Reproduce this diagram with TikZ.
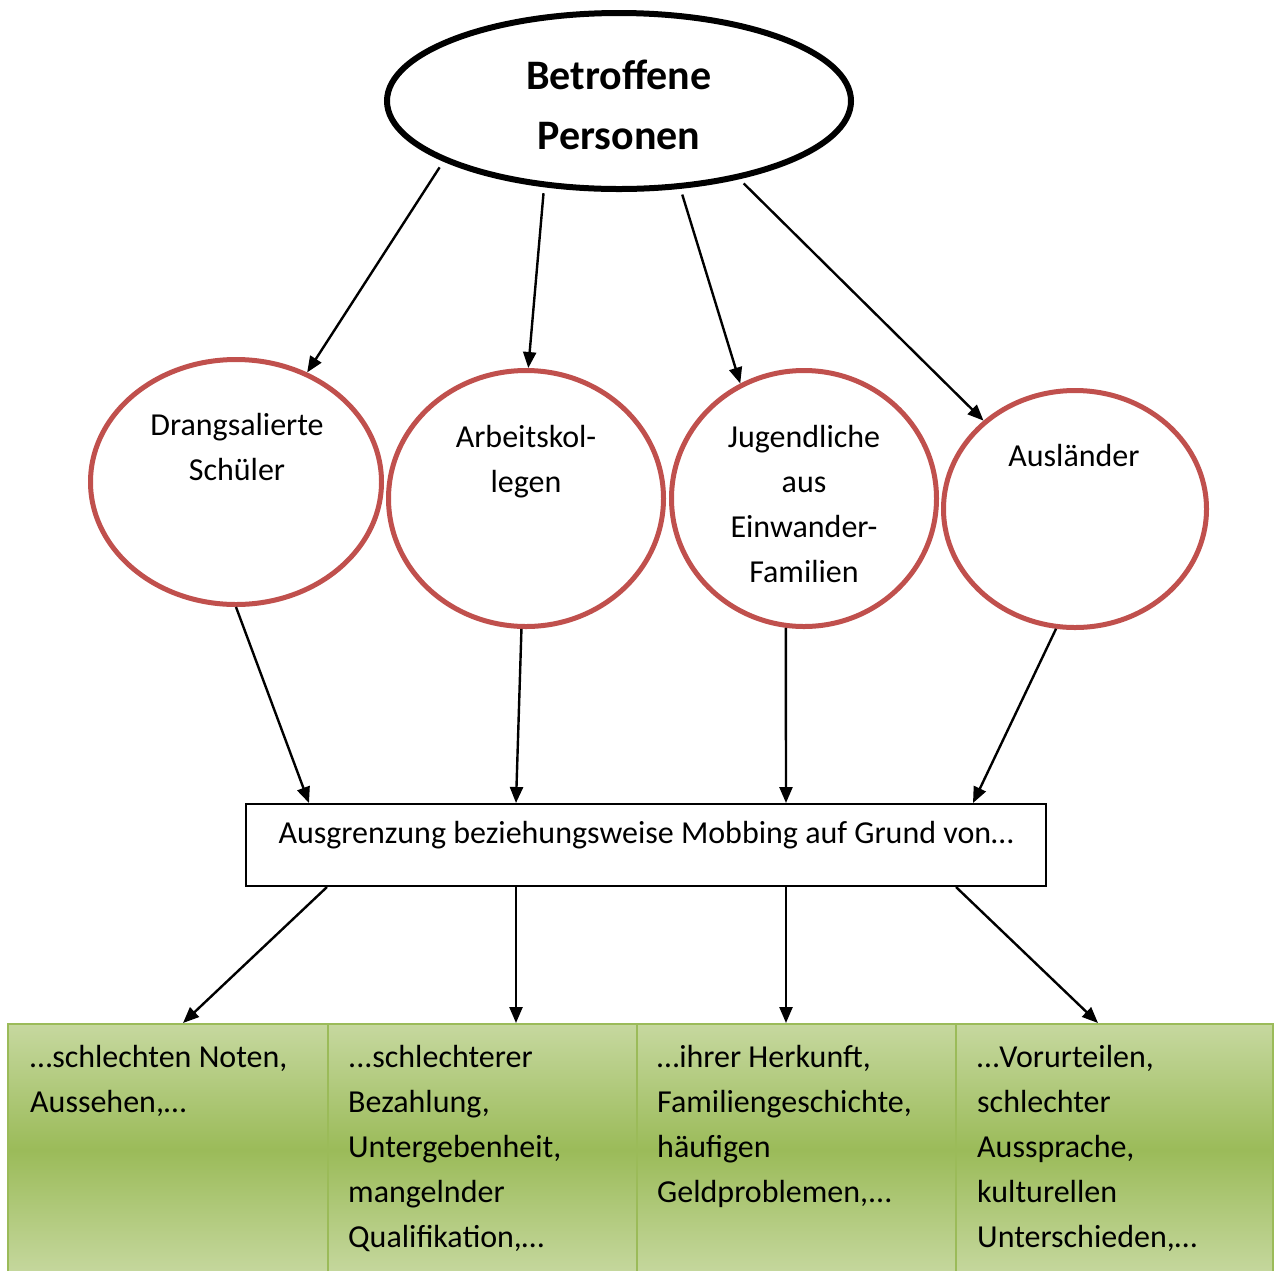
\documentclass[tikz,border=0pt]{standalone}
\usepackage{fontspec}
\setmainfont{Carlito}
\usetikzlibrary{shapes.geometric,arrows.meta,calc}
\definecolor{redc}{HTML}{C0504D}
\definecolor{gdark}{HTML}{9BBB59}
\definecolor{glight}{HTML}{C6D89F}
\definecolor{gline}{HTML}{9BBB59}
\begin{document}
\begin{tikzpicture}[x=1pt,y=-1pt,
  arr/.style={line width=2.4pt,-{Triangle[length=16pt,width=13pt]}},
  circ/.style={ellipse,draw=redc,line width=5pt,inner sep=0pt},
  txt/.style={font=\fontsize{32}{45}\selectfont,inner sep=0pt,align=center,anchor=base},
  ltxt/.style={font=\fontsize{32}{45}\selectfont,inner sep=0pt,align=left,anchor=base west},
  gbox/.style={rectangle,draw=gline,line width=2pt,inner sep=0pt,top color=glight,bottom color=glight,middle color=gdark}
]
\useasboundingbox (0,0) rectangle (1274,1270);
\fill[white] (0,0) rectangle (1274,1270);
% top ellipse
\node[ellipse,draw=black,line width=6pt,inner sep=0pt,minimum width=464pt,minimum height=176pt] (top) at (619,101) {};
\node[txt,font=\fontsize{42}{60}\selectfont\bfseries] (toptxt) at (619,149) {Betroffene\\Personen};
% circles
\node[circ,minimum width=291pt,minimum height=245pt] (c1) at (236,482) {};
\node[circ,minimum width=275pt,minimum height=256pt] (c2) at (526,498.5) {};
\node[circ,minimum width=265pt,minimum height=256pt] (c3) at (804,498.5) {};
\node[circ,minimum width=263pt,minimum height=237pt] (c4) at (1075,509) {};
\node[txt] (t1) at (237,480) {Drangsalierte\\Schüler};
\node[txt] (t2) at (526,492) {Arbeitskol-\\legen};
\node[txt] (t3) at (804,582) {Jugendliche\\aus\\Einwander-\\Familien};
\node[txt] (t4) at (1074,466) {Ausländer};
% middle rectangle
\node[rectangle,draw=black,line width=2pt,inner sep=0pt,minimum width=800pt,minimum height=82pt] (mid) at (646,845) {};
\node[txt] (midtxt) at (646,843) {Ausgrenzung beziehungsweise Mobbing auf Grund von…};
% bottom boxes
\node[gbox,minimum width=320pt,minimum height=252pt] (b1) at (168,1150) {};
\node[gbox,minimum width=309pt,minimum height=252pt] (b2) at (482.5,1150) {};
\node[gbox,minimum width=319pt,minimum height=252pt] (b3) at (796.5,1150) {};
\node[gbox,minimum width=317pt,minimum height=252pt] (b4) at (1114.5,1150) {};
\node[ltxt] (bt1) at (30,1112) {…schlechten Noten,\\Aussehen,…};
\node[ltxt] (bt2) at (348,1247) {...schlechterer\\Bezahlung,\\Untergebenheit,\\mangelnder\\Qualifikation,…};
\node[ltxt] (bt3) at (657,1202) {…ihrer Herkunft,\\Familiengeschichte,\\häufigen\\Geldproblemen,...};
\node[ltxt] (bt4) at (977,1247) {…Vorurteilen,\\schlechter\\Aussprache,\\kulturellen\\Unterschieden,…};
% arrows top -> circles
\draw[arr,shorten <=7pt] (top.199.6) -- (c1.57);
\draw[arr,shorten <=6pt] (top.229) -- (c2.89);
\draw[arr,shorten <=6pt] (top.305.7) -- (c3.119);
\draw[arr,shorten <=6pt] (top.327.3) -- (c4.136.6);
% circles -> mid
\draw[arr] (c1.270) -- ([xshift=-337pt]mid.north);
\draw[arr] (c2.268) -- ([xshift=-130pt]mid.north);
\draw[arr] (c3.262.3) -- ([xshift=140pt]mid.north);
\draw[arr] (c4.261.8) -- ([xshift=327pt]mid.north);
% mid -> boxes
\draw[arr] ([xshift=-319pt]mid.south) -- ([xshift=15pt]b1.north);
\draw[arr] ([xshift=-130pt]mid.south) -- ([xshift=33.5pt]b2.north);
\draw[arr] ([xshift=140pt]mid.south) -- ([xshift=-10.5pt]b3.north);
\draw[arr] ([xshift=310pt]mid.south) -- ([xshift=-16.5pt]b4.north);
\end{tikzpicture}
\end{document}
